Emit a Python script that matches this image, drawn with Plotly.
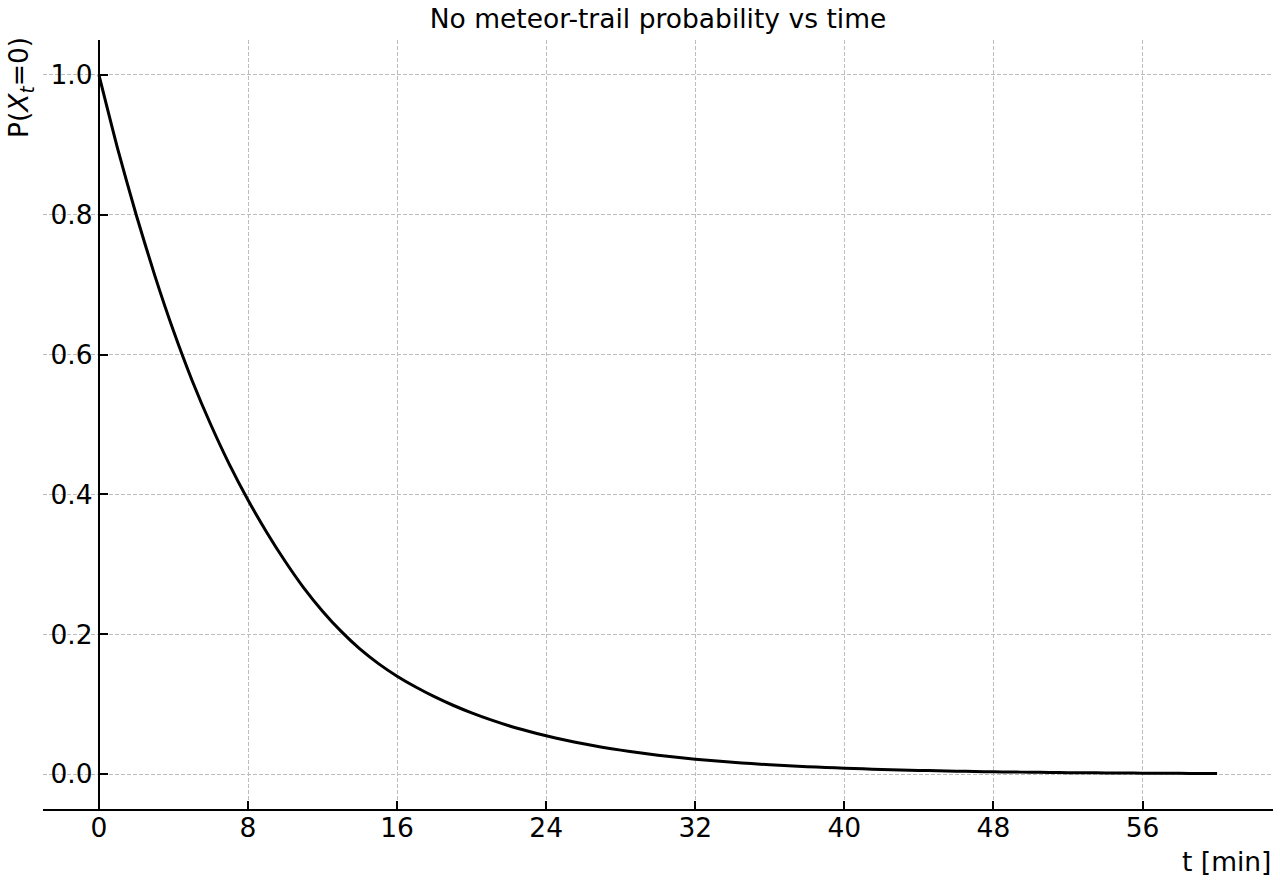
import plotly.graph_objects as go

# time in minutes
t_min = list(range(0, 61))
# P(X_t = 0)
p_no_trail = [
    1.000, 0.895, 0.800, 0.713, 0.634, 0.563, 0.500, 0.443, 0.392, 0.346,
    0.304, 0.266, 0.233, 0.204, 0.179, 0.158, 0.140, 0.1245, 0.1107, 0.0984,
    0.0875, 0.0778, 0.0691, 0.0615, 0.0547, 0.0486, 0.0432, 0.0384, 0.0342, 0.0304,
    0.0270, 0.0240, 0.0213, 0.0190, 0.0169, 0.0150, 0.0133, 0.0118, 0.0105, 0.0094,
    0.0083, 0.0074, 0.0066, 0.0058, 0.0052, 0.0046, 0.0041, 0.0036, 0.0032, 0.0029,
    0.0026, 0.0023, 0.0020, 0.0018, 0.0016, 0.0014, 0.0013, 0.0011, 0.0010, 0.0009,
    0.0008,
]
x_ticks = [0, 8, 16, 24, 32, 40, 48, 56]
y_ticks = [0.0, 0.2, 0.4, 0.6, 0.8, 1.0]
y_tick_text = ["0.0", "0.2", "0.4", "0.6", "0.8", "1.0"]

FONT = "DejaVu Sans"
FS = 26.5
x_range = [-3, 63]
y_range = [-0.05, 1.05]
GRID = "#bdbdbd"

fig = go.Figure()
fig.add_trace(go.Scatter(
    x=t_min, y=p_no_trail, mode="lines",
    line=dict(color="black", width=3, shape="spline", smoothing=0.6),
    showlegend=False, hoverinfo="skip",
))

fig.update_layout(
    width=1280, height=880,
    margin=dict(l=43, r=7, t=40, b=71),
    paper_bgcolor="white", plot_bgcolor="white",
    font=dict(family=FONT, size=FS, color="black"),
    title=dict(text="No meteor-trail probability vs time", x=(43 + 1273) / 2 / 1280,
               xanchor="center", y=1 - 19 / 880, yanchor="middle",
               font=dict(family=FONT, size=FS, color="black")),
    xaxis=dict(
        range=x_range, tickmode="array", tickvals=x_ticks,
        ticks="inside", ticklen=8, tickwidth=2, tickcolor="black",
        showline=True, linecolor="black", linewidth=2,
        showgrid=True, gridcolor=GRID, gridwidth=1, griddash="4px,2px",
        zeroline=False, tickfont=dict(family=FONT, size=FS, color="black"),
        ticklabelstandoff=-6,
    ),
    yaxis=dict(
        range=y_range, tickmode="array", tickvals=y_ticks, ticktext=y_tick_text,
        anchor="free", position=3 / 66,
        ticks="inside", ticklen=8, tickwidth=2, tickcolor="black",
        showline=True, linecolor="black", linewidth=2,
        showgrid=True, gridcolor=GRID, gridwidth=1, griddash="4px,2px",
        zeroline=False, tickfont=dict(family=FONT, size=FS, color="black"),
        ticklabelstandoff=0,
    ),
    annotations=[
        dict(text="t [min]", xref="paper", yref="paper", x=1, y=-(861 - 809) / 769,
             xanchor="right", yanchor="middle", showarrow=False,
             font=dict(family=FONT, size=FS, color="black")),
        dict(text="P(<i>X</i><sub><i>t</i></sub>=0)", xref="paper", yref="paper",
             x=(1 - 43) / 1230, y=1 + 5 / 769, xanchor="left", yanchor="top", textangle=-90,
             showarrow=False, font=dict(family=FONT, size=FS, color="black")),
    ],
)

fig.write_html("out.html")
